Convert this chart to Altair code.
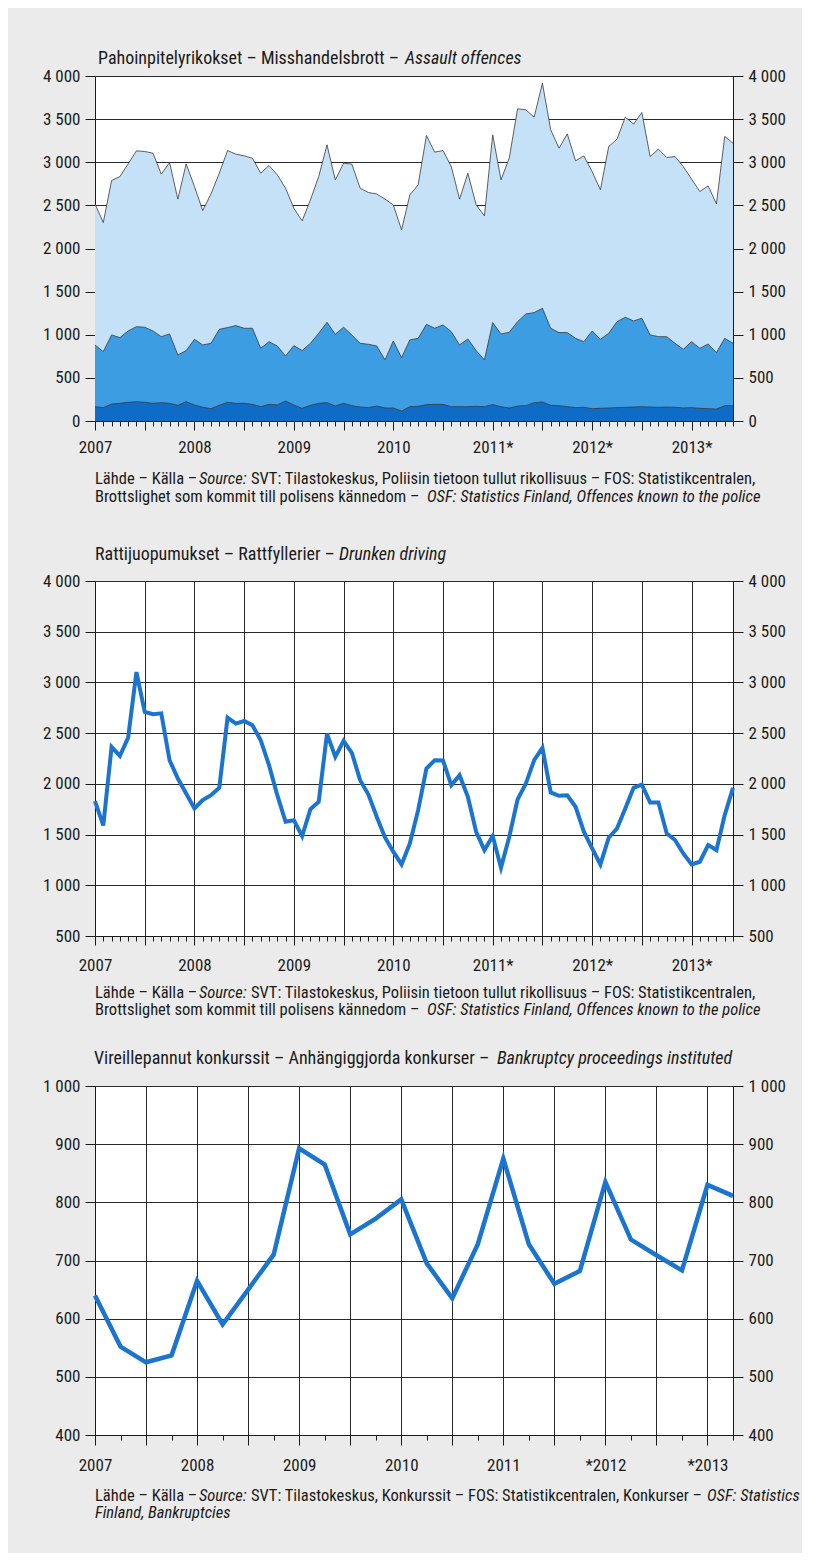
import altair as alt
import pandas as pd

FONT = "Liberation Sans Narrow, Arial Narrow, Roboto Condensed, DejaVu Sans Condensed, sans-serif"
BG = "#ebebeb"
INK = "#1a1a1a"
LIGHT = "#c4e1f7"
MID = "#3c9de2"
DARK = "#0f6cc6"
BLUE = "#1a74d0"

# ---------------- data ----------------
month_idx = list(range(78))          # Jan 2007 .. Jun 2013
quarter_idx = list(range(26))        # 2007Q1 .. 2013Q2

years_a = ["2007", "2008", "2009", "2010", "2011*", "2012*", "2013*"]
years_c = ["2007", "2008", "2009", "2010", "2011", "*2012", "*2013"]

assault_total = [2517, 2301, 2788, 2834, 2981, 3132, 3125, 3105, 2862, 2997, 2572, 2981,
                 2720, 2440, 2633, 2873, 3136, 3094, 3074, 3047, 2873, 2962, 2854, 2699,
                 2467, 2320, 2564, 2834, 3202, 2796, 2989, 2978, 2699, 2649, 2633, 2572,
                 2506, 2216, 2622, 2738, 3310, 3117, 3136, 2950, 2572, 2873, 2506, 2378,
                 3318, 2796, 3050, 3620, 3608, 3523, 3917, 3376, 3163, 3329, 3016, 3074,
                 2892, 2680, 3182, 3268, 3523, 3442, 3577, 3066, 3152, 3055, 3066, 2950,
                 2804, 2661, 2726, 2517, 3299, 3221]
assault_mid = [882, 804, 998, 967, 1044, 1094, 1087, 1044, 978, 1009, 766, 816,
               947, 882, 901, 1063, 1083, 1106, 1075, 1075, 843, 920, 870, 754,
               874, 816, 901, 1017, 1145, 1005, 1087, 998, 901, 889, 870, 708,
               928, 735, 940, 959, 1121, 1075, 1114, 1036, 882, 951, 816, 708,
               1141, 1009, 1029, 1152, 1241, 1257, 1307, 1075, 1025, 1025, 959, 920,
               1044, 947, 1017, 1152, 1203, 1160, 1191, 998, 978, 978, 901, 831,
               920, 843, 893, 793, 959, 901]
assault_low = [166, 155, 197, 205, 217, 224, 217, 205, 213, 205, 182, 224,
               186, 159, 143, 182, 217, 205, 205, 193, 166, 193, 186, 232,
               186, 147, 182, 205, 213, 174, 205, 178, 162, 155, 174, 151,
               151, 116, 166, 170, 190, 193, 193, 166, 166, 166, 170, 166,
               190, 166, 151, 174, 178, 213, 220, 182, 178, 166, 155, 159,
               143, 147, 151, 155, 159, 162, 166, 162, 159, 162, 159, 151,
               155, 147, 143, 139, 178, 178]
drunk = [1830, 1590, 2364, 2275, 2456, 3102, 2709, 2686, 2695, 2233, 2052, 1905,
         1757, 1840, 1888, 1961, 2653, 2594, 2620, 2577, 2430, 2184, 1888, 1626,
         1642, 1485, 1751, 1823, 2495, 2266, 2423, 2305, 2036, 1895, 1675, 1472,
         1331, 1206, 1413, 1741, 2151, 2233, 2230, 1987, 2085, 1872, 1528, 1347,
         1485, 1174, 1479, 1846, 2003, 2233, 2354, 1915, 1882, 1888, 1774, 1528,
         1364, 1206, 1469, 1560, 1757, 1961, 1993, 1816, 1816, 1511, 1446, 1314,
         1206, 1232, 1396, 1347, 1692, 1961]
bankrupt = [640, 552, 525, 537, 665, 590, 650, 710, 893, 865, 745, 772, 805,
            695, 635, 728, 875, 728, 660, 682, 835, 736, 709, 683, 830, 811]

y_ticks_a = [0, 500, 1000, 1500, 2000, 2500, 3000, 3500, 4000]
y_ticks_b = [500, 1000, 1500, 2000, 2500, 3000, 3500, 4000]
y_ticks_c = [400, 500, 600, 700, 800, 900, 1000]

title_a = [("Pahoinpitelyrikokset – Misshandelsbrott – ", "normal", 3), ("Assault offences", "italic", 310)]
title_b = [("Rattijuopumukset – Rattfyllerier – ", "normal", 0), ("Drunken driving", "italic", 244)]
title_c = [("Vireillepannut konkurssit – Anhängiggjorda konkurser – ", "normal", -1),
           ("Bankruptcy proceedings instituted", "italic", 402)]
src_police_1 = [("Lähde – Källa – ", "normal", 0), ("Source:", "italic", 104),
                (" SVT: Tilastokeskus, Poliisin tietoon tullut rikollisuus – FOS: Statistikcentralen,", "normal", 156)]
src_police_2 = [("Brottslighet som kommit till polisens kännedom – ", "normal", 0),
                ("OSF: Statistics Finland, Offences known to the police", "italic", 332)]
src_bank_1 = [("Lähde – Källa – ", "normal", 0), ("Source:", "italic", 104),
              (" SVT: Tilastokeskus, Konkurssit – FOS: Statistikcentralen, Konkurser – ", "normal", 156),
              ("OSF: Statistics", "italic", 612)]
src_bank_2 = [("Finland, Bankruptcies", "italic", 0)]

W = 638
H1, H2, H3 = 345, 355, 349
TITLE_SIZE = 18
SRC_SIZE = 16.5
TICK_SIZE = 17


def fmt_expr():
    return "replace(format(datum.value, ','), ',', ' ')"


def yaxis(orient, values, grid):
    return alt.Axis(orient=orient, values=values, title=None, grid=grid,
                    gridColor="#2a2a2a", gridWidth=1, labelExpr=fmt_expr(),
                    tickSize=10, tickColor=INK, tickWidth=1, domain=True, domainColor=INK,
                    labelFont=FONT, labelFontSize=TICK_SIZE, labelColor=INK, labelPadding=5)


def xaxis(values, period_major, period_label, labels, grid, long_tick=9, short_tick=5, pad=8):
    arr = "[" + ",".join("'%s'" % s for s in labels) + "]"
    kw = dict(values=values, title=None,
              tickSize={"condition": {"test": "datum.value %% %d == 0" % period_major, "value": long_tick},
                        "value": short_tick},
              tickColor=INK, domainColor=INK,
              labelExpr="datum.value %% %d == 0 ? %s[datum.value / %d] : ''" % (period_label, arr, period_label),
              labelOverlap=False, labelFlush=False, labelFont=FONT, labelFontSize=TICK_SIZE,
              labelColor=INK, labelPadding=pad)
    if grid:
        kw.update(grid=True, gridColor="#2a2a2a", gridWidth=1,
                  gridOpacity={"condition": {"test": "datum.value %% %d == 0" % period_major, "value": 1},
                               "value": 0})
    else:
        kw.update(grid=False)
    return alt.Axis(**kw)


def text_line(segments, y, size, opacity=1):
    layers = []
    for txt, style, xoff in segments:
        layers.append(
            alt.Chart(alt.Data(values=[{}])).mark_text(
                align="left", baseline="alphabetic", font=FONT, fontSize=size,
                fontStyle=style, color=INK, opacity=opacity
            ).encode(x=alt.value(xoff), y=alt.value(y), text=alt.value(txt))
        )
    return layers


# ---------------- panel 1: assault ----------------
df1 = pd.DataFrame({"m": month_idx, "total": assault_total, "mid": assault_mid, "low": assault_low})
x1 = alt.X("m:Q", scale=alt.Scale(domain=[0, 77], nice=False, zero=False),
           axis=xaxis(month_idx, 6, 12, years_a, grid=False, pad=9))
ys1 = alt.Scale(domain=[0, 4000], nice=False, zero=False)
outline = {"color": "#3a3a3a", "strokeWidth": 0.8}
p1_total = alt.Chart(df1).mark_area(color=LIGHT, opacity=1, line=outline).encode(
    x=x1, y=alt.Y("total:Q", scale=ys1, axis=yaxis("left", y_ticks_a, True)))
p1_mid = alt.Chart(df1).mark_area(color=MID, opacity=1, line=outline).encode(
    x=x1, y=alt.Y("mid:Q", scale=ys1, axis=None))
p1_low = alt.Chart(df1).mark_area(color=DARK, opacity=1, line=outline).encode(
    x=x1, y=alt.Y("low:Q", scale=ys1, axis=yaxis("right", y_ticks_a, False)))
p1 = alt.layer(
    p1_total, p1_mid, p1_low,
    *text_line(title_a, -12, TITLE_SIZE),
    *text_line(src_police_1, H1 + 63, SRC_SIZE),
    *text_line(src_police_2, H1 + 81, SRC_SIZE),
    *text_line([(".", "normal", 0)], H1 + 90, SRC_SIZE, opacity=0),   # spacing keeper
).resolve_axis(y="independent").properties(width=W, height=H1)

# ---------------- panel 2: drunken driving ----------------
df2 = pd.DataFrame({"m": month_idx, "v": drunk})
x2 = alt.X("m:Q", scale=alt.Scale(domain=[0, 77], nice=False, zero=False),
           axis=xaxis(month_idx, 6, 12, years_a, grid=True, pad=12))
ys2 = alt.Scale(domain=[500, 4000], nice=False, zero=False)
p2_line = alt.Chart(df2).mark_line(color=BLUE, strokeWidth=4).encode(
    x=x2, y=alt.Y("v:Q", scale=ys2, axis=yaxis("left", y_ticks_b, True)))
p2_r = alt.Chart(df2).mark_line(opacity=0).encode(
    x=x2, y=alt.Y("v:Q", scale=ys2, axis=yaxis("right", y_ticks_b, False)))
p2 = alt.layer(
    p2_line, p2_r,
    *text_line(title_b, -21, TITLE_SIZE),
    *text_line(src_police_1, H2 + 62, SRC_SIZE),
    *text_line(src_police_2, H2 + 79, SRC_SIZE),
).resolve_axis(y="independent").properties(width=W, height=H2)

# ---------------- panel 3: bankruptcies ----------------
df3 = pd.DataFrame({"q": quarter_idx, "v": bankrupt})
x3 = alt.X("q:Q", scale=alt.Scale(domain=[0, 25], nice=False, zero=False),
           axis=xaxis(quarter_idx, 2, 4, years_c, grid=True, long_tick=10, short_tick=5, pad=12))
ys3 = alt.Scale(domain=[400, 1000], nice=False, zero=False)
p3_line = alt.Chart(df3).mark_line(color=BLUE, strokeWidth=4.5).encode(
    x=x3, y=alt.Y("v:Q", scale=ys3, axis=yaxis("left", y_ticks_c, True)))
p3_r = alt.Chart(df3).mark_line(opacity=0).encode(
    x=x3, y=alt.Y("v:Q", scale=ys3, axis=yaxis("right", y_ticks_c, False)))
p3 = alt.layer(
    p3_line, p3_r,
    *text_line(title_c, -22, TITLE_SIZE),
    *text_line(src_bank_1, H3 + 66, SRC_SIZE),
    *text_line(src_bank_2, H3 + 83, SRC_SIZE),
).resolve_axis(y="independent").properties(width=W, height=H3)

chart = alt.vconcat(p1, p2, p3, spacing=30).properties(
    background=BG,
    padding={"left": 34, "top": 41, "right": 1, "bottom": 31},
).configure_view(stroke=INK, strokeWidth=1, fill="white")

chart.save("out.html", embed_options={"renderer": "svg", "actions": False})
